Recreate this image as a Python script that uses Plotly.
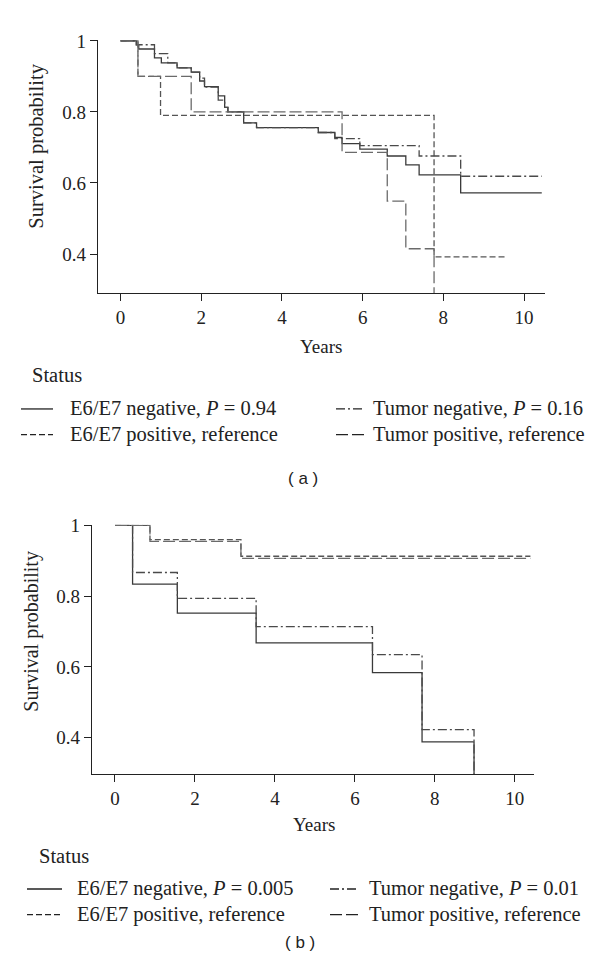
import plotly.graph_objects as go

W, H = 600, 976

# ---------------- data ----------------
# Panel (a)
a_neg_t = [0, 0.39, 0.45, 0.84, 1.01, 1.40, 1.75, 1.96, 2.08, 2.42, 2.58, 2.66, 3.05, 3.37, 4.90, 5.31, 5.49, 5.93, 6.61, 7.07, 7.40, 8.43, 10.44]
a_neg_s = [1.0, 0.989, 0.977, 0.952, 0.938, 0.924, 0.912, 0.887, 0.871, 0.845, 0.813, 0.80, 0.769, 0.756, 0.742, 0.728, 0.711, 0.695, 0.676, 0.651, 0.623, 0.572, 0.572]
a_tneg_t = [0, 0.39, 0.84, 1.17, 1.40, 1.75, 1.96, 2.08, 2.42, 2.58, 2.66, 3.05, 3.37, 4.90, 5.31, 5.93, 7.40, 8.43, 10.44]
a_tneg_s = [1.0, 0.989, 0.964, 0.938, 0.924, 0.912, 0.895, 0.870, 0.833, 0.813, 0.80, 0.769, 0.756, 0.742, 0.725, 0.705, 0.676, 0.619, 0.619]
a_pos_t = [0, 0.43, 0.99, 7.77, 9.53]
a_pos_s = [1.0, 0.90, 0.79, 0.392, 0.392]
a_tpos_t = [0, 0.43, 1.75, 5.49, 6.61, 7.07, 7.77]
a_tpos_s = [1.0, 0.90, 0.80, 0.686, 0.549, 0.415, 0.0]

# Panel (b)
b_neg_t = [0, 0.44, 1.56, 3.53, 6.44, 7.68, 8.98]
b_neg_s = [1.0, 0.834, 0.752, 0.668, 0.584, 0.388, 0.0]
b_tneg_t = [0, 0.44, 1.56, 3.53, 6.44, 7.68, 8.98]
b_tneg_s = [1.0, 0.867, 0.794, 0.714, 0.635, 0.423, 0.0]
b_pos_t = [0, 0.875, 3.15, 10.39]
b_pos_s = [1.0, 0.960, 0.913, 0.913]
b_tpos_t = [0, 0.875, 3.15, 10.39]
b_tpos_s = [1.0, 0.955, 0.907, 0.907]

x_ticks = [0, 2, 4, 6, 8, 10]
y_ticks = [0.4, 0.6, 0.8, 1.0]
y_ticklabels = ["0.4", "0.6", "0.8", "1"]

legend_a = ["E6/E7 negative, <i>P</i> = 0.94", "E6/E7 positive, reference",
            "Tumor negative, <i>P</i> = 0.16", "Tumor positive, reference"]
legend_b = ["E6/E7 negative, <i>P</i> = 0.005", "E6/E7 positive, reference",
            "Tumor negative, <i>P</i> = 0.01", "Tumor positive, reference"]

# ---------------- styles ----------------
SERIF = "Liberation Serif"
SANS = "Liberation Sans"
st_neg = dict(color="#3a3a3a", width=1.3, dash="solid")
st_pos = dict(color="#555555", width=1.3, dash="6px,3px")
st_tneg = dict(color="#4a4a4a", width=1.3, dash="9px,3px,2px,3px")
st_tpos = dict(color="#6a6a6a", width=1.3, dash="12px,4px")

OFF = 8  # page body margin in the browser


def px_x(p):
    return (p - OFF) / W


def px_y(p):
    return 1 - (p - OFF) / H


fig = go.Figure()

for xa, ya, series in [
    ("x", "y", [(a_neg_t, a_neg_s, st_neg), (a_pos_t, a_pos_s, st_pos),
                (a_tneg_t, a_tneg_s, st_tneg), (a_tpos_t, a_tpos_s, st_tpos)]),
    ("x2", "y2", [(b_neg_t, b_neg_s, st_neg), (b_pos_t, b_pos_s, st_pos),
                  (b_tneg_t, b_tneg_s, st_tneg), (b_tpos_t, b_tpos_s, st_tpos)]),
]:
    for t, s, st in series:
        fig.add_trace(go.Scatter(x=t, y=s, mode="lines", line=dict(shape="hv", **st),
                                 xaxis=xa, yaxis=ya, showlegend=False, hoverinfo="skip"))

axis_common = dict(showline=True, linecolor="#222", linewidth=1.3, ticks="outside",
                   ticklen=7, tickwidth=1.2, tickcolor="#222", showgrid=False, zeroline=False,
                   tickfont=dict(family=SERIF, size=19, color="#222"), fixedrange=True)

fig.update_layout(
    width=W, height=H, margin=dict(l=0, r=0, t=0, b=0),
    paper_bgcolor="white", plot_bgcolor="white",
    xaxis=dict(domain=[px_x(98), px_x(545)], range=[-0.56, 10.52], anchor="y",
               tickvals=x_ticks, **axis_common),
    yaxis=dict(domain=[px_y(286), px_y(30)], range=[0.29, 1.003], anchor="x",
               tickvals=y_ticks, ticktext=y_ticklabels, **axis_common),
    xaxis2=dict(domain=[px_x(92), px_x(534)], range=[-0.575, 10.48], anchor="y2",
                tickvals=x_ticks, **axis_common),
    yaxis2=dict(domain=[px_y(772), px_y(520)], range=[0.297, 1.002], anchor="x2",
                tickvals=y_ticks, ticktext=y_ticklabels, **axis_common),
)

ann = []
shapes = []


def text(x, y, s, size=20.5, family=SERIF, xanchor="left", angle=0):
    ann.append(dict(x=px_x(x), y=px_y(y), xref="paper", yref="paper", text=s, showarrow=False,
                    xanchor=xanchor, yanchor="middle", textangle=angle,
                    font=dict(family=family, size=size, color="#222")))


# axis titles
text(321, 340, "Years", size=19, xanchor="center")
text(37, 138, "Survival probability", xanchor="center", angle=-90)
text(314, 823, "Years", size=19, xanchor="center")
text(32, 628, "Survival probability", size=20, xanchor="center", angle=-90)


def legend(status_x, status_y, rows_y, left_sample, left_text, right_sample, right_text, labels):
    text(status_x, status_y, "Status")
    styles = [st_neg, st_pos, st_tneg, st_tpos]
    pos = [(left_sample, left_text, rows_y[0]), (left_sample, left_text, rows_y[1]),
           (right_sample, right_text, rows_y[0]), (right_sample, right_text, rows_y[1])]
    for (smp, tx, ry), lab, st in zip(pos, labels, styles):
        shapes.append(dict(type="line", xref="paper", yref="paper",
                           x0=px_x(smp[0]), x1=px_x(smp[1]), y0=px_y(ry), y1=px_y(ry),
                           line=dict(color="#222", width=1.3, dash=st["dash"])))
        text(tx, ry, lab)


legend(30, 369, (403, 429), (21, 53), 68, (336, 364), 371, legend_a)
legend(37, 855, (888, 914), (27, 62), 75, (330, 358), 367, legend_b)

text(303, 473, "( a )", size=17, family=SANS, xanchor="center")
text(300, 942, "( b )", size=17, family=SANS, xanchor="center")

fig.update_layout(annotations=ann, shapes=shapes)
fig.write_html("out.html")
